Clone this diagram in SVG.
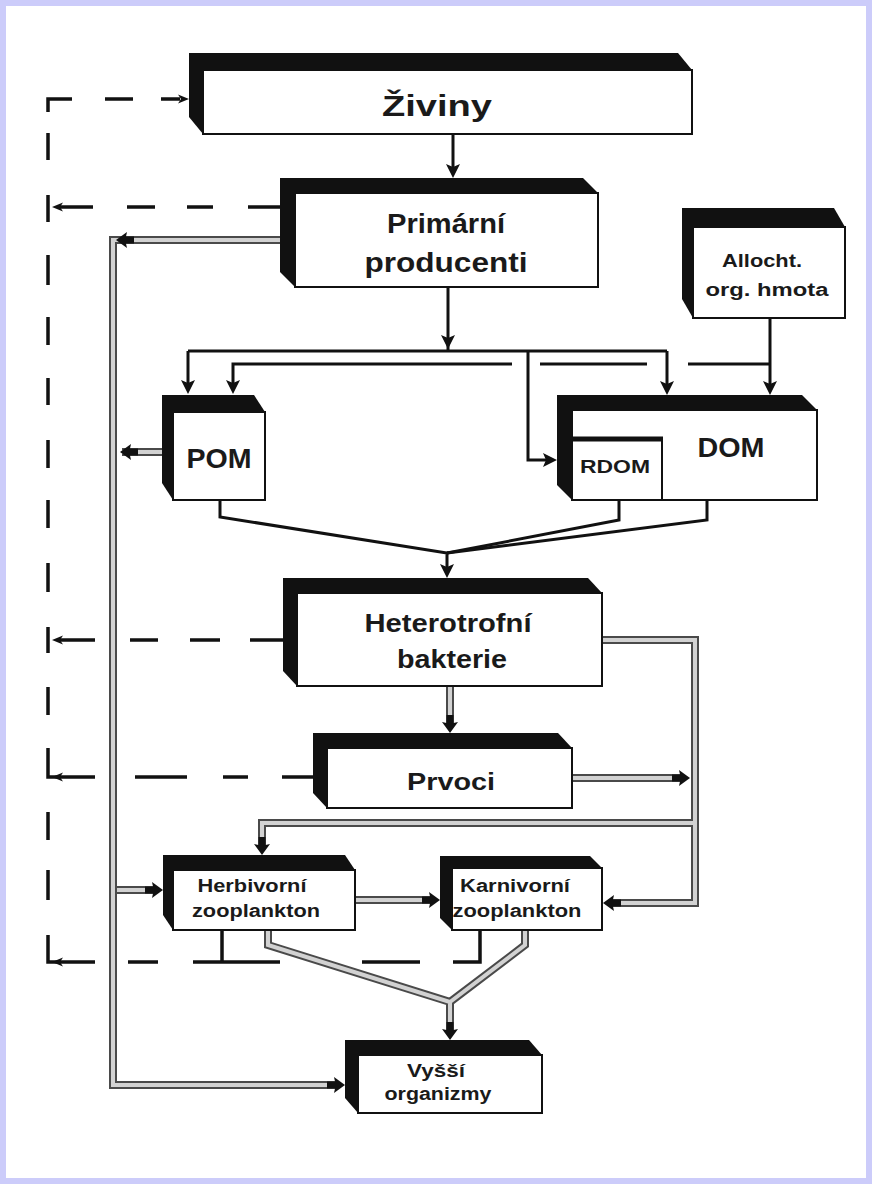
<svg xmlns="http://www.w3.org/2000/svg" xmlns:xlink="http://www.w3.org/1999/xlink" width="872" height="1184" viewBox="0 0 872 1184">
  <style>
    .depth { fill: #111; }
    .face { fill: #fff; stroke: #111; stroke-width: 2; }
    .lbl { font-family: "Liberation Sans", Arial, sans-serif; font-weight: bold; fill: #1a1a1a; text-anchor: middle; }
    .wire { fill: none; stroke: #111; stroke-width: 3; }
    .dash { fill: none; stroke: #111; stroke-width: 3.5; }
    .tube-out { fill: none; stroke: #4a4a4a; stroke-width: 8; stroke-linejoin: miter; }
    .tube-in { fill: none; stroke: #d2d2d2; stroke-width: 4; stroke-linejoin: miter; }
    .head { fill: #111; }
  </style>
  <defs>
    <!-- arrowheads, tip at origin, pointing along +x -->
    <path id="ahS" d="M0,0 L-14,-7 L-11,0 L-14,7 Z"/>
    <path id="ahD" d="M0,0 L-11,-8 L-10,-3.5 L-18,-3.5 L-18,3.5 L-10,3.5 L-11,8 Z"/>
    <path id="ahL" d="M0,0 L-11,-4.5 L-8,0 L-11,4.5 Z"/>
  </defs>

  <!-- page -->
  <rect x="0" y="0" width="872" height="1184" fill="#ccccfa"/>
  <rect x="6" y="6" width="860" height="1172" fill="#fff"/>

  <g id="connectors">
    <!-- solid flows -->
    <g class="wire">
      <path d="M453,134 V168"/>
      <path d="M448,287 V351"/>
      <path d="M188,351 H667"/>
      <path d="M188,351 V385"/>
      <path d="M667,351 V386"/>
      <path d="M528,351 V460 H548"/>
      <path d="M770,318 V386"/>
      <path d="M770,364 H688 M647,364 H540 M512,364 H233 V385"/>
      <path d="M220,500 V517 L447,553 V570"/>
      <path d="M619,500 V520 L447,553"/>
      <path d="M707,500 V520 L447,553"/>
    </g>

    <!-- dashed return flows -->
    <g class="dash">
      <path d="M48,112 V99 H72 M105,99 H133 M161,99 H180"/>
      <path d="M48,133 V160 M48,195 V222 M48,255 V285 M48,317 V345 M48,378 V405 M48,440 V468 M48,500 V528 M48,563 V592 M48,627 V653 M48,687 V715 M48,748 V777 H58 M48,812 V840 M48,870 V900 M48,935 V962 H58"/>
      <path d="M280,207 H248 M213,207 H187 M155,207 H127 M93,207 H60"/>
      <path d="M283,640 H250 M220,640 H190 M158,640 H130 M95,640 H60"/>
      <path d="M313,777 H282 M248,777 H223 M187,777 H135 M95,777 H60"/>
      <path d="M480,930 V962 H453 M420,962 H362 M280,962 H193 M158,962 H128 M95,962 H60"/>
      <path d="M222,930 V962"/>
    </g>

    <!-- hollow flows -->
    <g class="tube-out">
      <path d="M280,240 H113 V1085 H335"/>
      <path d="M162,452 H122"/>
      <path d="M117,890 H155"/>
      <path d="M602,640 H695 V903 H612"/>
      <path d="M450,686 V725"/>
      <path d="M572,778 H680"/>
      <path d="M695,823 H262 V848"/>
      <path d="M355,900 H432"/>
      <path d="M268,930 V945 L450,1002 V1032"/>
      <path d="M525,930 V945 L450,1002"/>
    </g>
    <g class="tube-in">
      <path d="M280,240 H113 V1085 H335"/>
      <path d="M162,452 H122"/>
      <path d="M117,890 H155"/>
      <path d="M602,640 H695 V903 H612"/>
      <path d="M450,686 V725"/>
      <path d="M572,778 H680"/>
      <path d="M695,823 H262 V848"/>
      <path d="M355,900 H432"/>
      <path d="M268,930 V945 L450,1002 V1032"/>
      <path d="M525,930 V945 L450,1002"/>
    </g>

    <!-- arrowheads -->
    <g class="head">
      <use href="#ahS" transform="translate(453,178) rotate(90)"/>
      <use href="#ahS" transform="translate(448,349) rotate(90)"/>
      <use href="#ahS" transform="translate(188,394) rotate(90)"/>
      <use href="#ahS" transform="translate(233,394) rotate(90)"/>
      <use href="#ahS" transform="translate(667,395) rotate(90)"/>
      <use href="#ahS" transform="translate(770,395) rotate(90)"/>
      <use href="#ahS" transform="translate(557,460)"/>
      <use href="#ahS" transform="translate(447,578) rotate(90)"/>

      <use href="#ahL" transform="translate(189,99)"/>
      <use href="#ahL" transform="translate(52,207) rotate(180)"/>
      <use href="#ahL" transform="translate(52,640) rotate(180)"/>
      <use href="#ahL" transform="translate(52,777) rotate(180)"/>
      <use href="#ahL" transform="translate(52,962) rotate(180)"/>

      <use href="#ahD" transform="translate(116,240) rotate(180)"/>
      <use href="#ahD" transform="translate(120,452) rotate(180)"/>
      <use href="#ahD" transform="translate(163,890)"/>
      <use href="#ahD" transform="translate(603,903) rotate(180)"/>
      <use href="#ahD" transform="translate(450,733) rotate(90)"/>
      <use href="#ahD" transform="translate(690,778)"/>
      <use href="#ahD" transform="translate(262,855) rotate(90)"/>
      <use href="#ahD" transform="translate(440,900)"/>
      <use href="#ahD" transform="translate(450,1040) rotate(90)"/>
      <use href="#ahD" transform="translate(345,1085)"/>
    </g>
  </g>

  <g id="ziviny">
    <polygon class="depth" points="189,53 678,53 692,70 692,134 203,134 189,117"/>
    <rect class="face" x="203" y="70" width="489" height="64"/>
    <text class="lbl" x="437" y="116" font-size="29" textLength="110" lengthAdjust="spacingAndGlyphs">Živiny</text>
  </g>

  <g id="primarni-producenti">
    <polygon class="depth" points="280,178 583,178 598,193 598,287 295,287 280,272"/>
    <rect class="face" x="295" y="193" width="303" height="94"/>
    <text class="lbl" x="446" y="233" font-size="27" textLength="118" lengthAdjust="spacingAndGlyphs">Primární</text>
    <text class="lbl" x="446" y="272" font-size="27" textLength="163" lengthAdjust="spacingAndGlyphs">producenti</text>
  </g>

  <g id="allocht">
    <polygon class="depth" points="682,208 834,208 845,227 845,318 693,318 682,299"/>
    <rect class="face" x="693" y="227" width="152" height="91"/>
    <text class="lbl" x="762" y="267" font-size="18" textLength="80" lengthAdjust="spacingAndGlyphs">Allocht.</text>
    <text class="lbl" x="767" y="296" font-size="18" textLength="123" lengthAdjust="spacingAndGlyphs">org. hmota</text>
  </g>

  <g id="pom">
    <polygon class="depth" points="162,395 254,395 265,412 265,500 173,500 162,483"/>
    <rect class="face" x="173" y="412" width="92" height="88"/>
    <text class="lbl" x="219" y="468" font-size="28" textLength="65" lengthAdjust="spacingAndGlyphs">POM</text>
  </g>

  <g id="dom">
    <polygon class="depth" points="557,395 802,395 817,410 817,500 572,500 557,485"/>
    <rect class="face" x="572" y="410" width="245" height="90"/>
    <text class="lbl" x="731" y="457" font-size="27" textLength="67" lengthAdjust="spacingAndGlyphs">DOM</text>
    <g id="rdom">
      <rect class="face" x="572" y="438" width="90" height="62"/>
      <line x1="572" y1="439" x2="663" y2="439" stroke="#111" stroke-width="5"/>
      <text class="lbl" x="615" y="473" font-size="19" textLength="70" lengthAdjust="spacingAndGlyphs">RDOM</text>
    </g>
  </g>

  <g id="heterotrofni-bakterie">
    <polygon class="depth" points="283,578 588,578 602,593 602,686 297,686 283,671"/>
    <rect class="face" x="297" y="593" width="305" height="93"/>
    <text class="lbl" x="448" y="632" font-size="25" textLength="167" lengthAdjust="spacingAndGlyphs">Heterotrofní</text>
    <text class="lbl" x="452" y="668" font-size="25" textLength="110" lengthAdjust="spacingAndGlyphs">bakterie</text>
  </g>

  <g id="prvoci">
    <polygon class="depth" points="313,733 558,733 572,748 572,808 327,808 313,793"/>
    <rect class="face" x="327" y="748" width="245" height="60"/>
    <text class="lbl" x="451" y="790" font-size="24" textLength="88" lengthAdjust="spacingAndGlyphs">Prvoci</text>
  </g>

  <g id="herbivorni-zooplankton">
    <polygon class="depth" points="163,855 345,855 355,870 355,930 173,930 163,915"/>
    <rect class="face" x="173" y="870" width="182" height="60"/>
    <text class="lbl" x="252" y="892" font-size="18" textLength="109" lengthAdjust="spacingAndGlyphs">Herbivorní</text>
    <text class="lbl" x="256" y="917" font-size="18" textLength="128" lengthAdjust="spacingAndGlyphs">zooplankton</text>
  </g>

  <g id="karnivorni-zooplankton">
    <polygon class="depth" points="440,856 590,856 602,868 602,930 452,930 440,918"/>
    <rect class="face" x="452" y="868" width="150" height="62"/>
    <text class="lbl" x="515" y="892" font-size="18" textLength="110" lengthAdjust="spacingAndGlyphs">Karnivorní</text>
    <text class="lbl" x="517" y="917" font-size="18" textLength="129" lengthAdjust="spacingAndGlyphs">zooplankton</text>
  </g>

  <g id="vyssi-organizmy">
    <polygon class="depth" points="345,1040 529,1040 542,1055 542,1113 358,1113 345,1098"/>
    <rect class="face" x="358" y="1055" width="184" height="58"/>
    <text class="lbl" x="436" y="1077" font-size="18" textLength="58" lengthAdjust="spacingAndGlyphs">Vyšší</text>
    <text class="lbl" x="438" y="1100" font-size="18" textLength="107" lengthAdjust="spacingAndGlyphs">organizmy</text>
  </g>
</svg>
